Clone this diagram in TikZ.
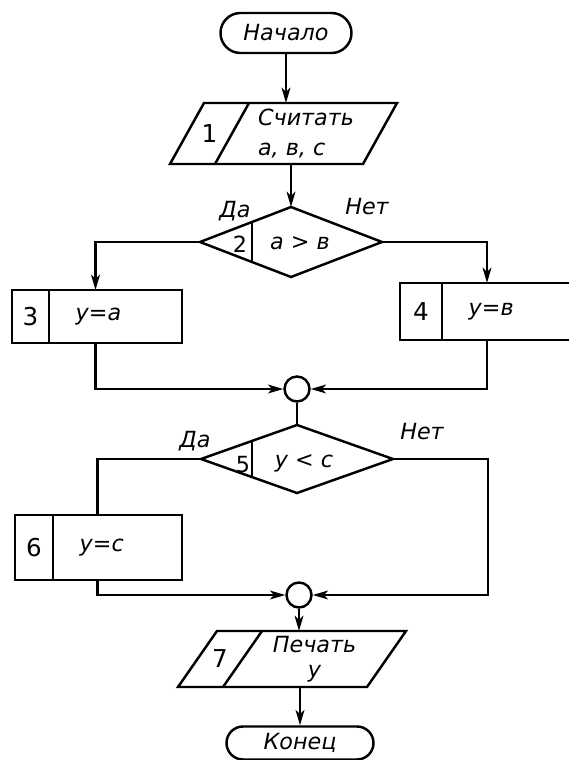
\documentclass[tikz,border=0pt]{standalone}
\usepackage{fontspec}
\setmainfont{DejaVu Sans}
\usetikzlibrary{shapes.geometric, shapes.misc, arrows.meta, positioning, calc}
\newcommand{\chartfont}{\fontsize{19}{25}\selectfont}
\newcommand{\numfont}{\fontsize{21}{25}\selectfont}

\begin{document}
\begin{tikzpicture}[
    x=0.03cm, y=-0.03cm,
    font=\numfont,
    line width=2.1pt,
    term/.style={rounded rectangle, draw, font=\chartfont\itshape, inner sep=0pt},
    cell/.style={rectangle, draw, outer sep=0pt, inner sep=0pt},
    proc/.style={cell, align=left, inner xsep=0.8cm, text width=#1, font=\chartfont\itshape},
    slab/.style={rectangle, outer sep=0pt, inner sep=0pt},
    decision/.style={diamond, draw, outer sep=0pt, inner sep=0pt},
    junction/.style={circle, draw, minimum size=0.75cm, inner sep=0pt},
    arrow/.style={-{Stealth[length=13pt, width=7.5pt, inset=3.5pt]}},
    tag/.style={font=\chartfont\itshape},
    mark num/.style={font=\chartfont, inner sep=0pt}
  ]
    \useasboundingbox (0,0) rectangle (569,760);

    \node[term, minimum width=3.93cm, minimum height=1.2cm] (start) at (286,33) {Начало};
    \node[slab, minimum width=1.35cm, minimum height=1.83cm] (n1) at (209.5,133.5) {1};
    \node[slab, minimum width=4.44cm, minimum height=1.83cm, right=0pt of n1,
          align=left, font=\chartfont\itshape] (r1) {Считать\\a, в, c};

    \node[decision, minimum width=5.46cm, minimum height=2.1cm] (d2) at (291,242) {};
    \node[mark num] (k2) at (240,244) {2};
    \node[tag] (t2) at (300,243) {a > в};
    \node[tag] (yes2) at (235,211) {Да};
    \node[tag] (no2) at (367,207) {Нет};

    \node[cell, minimum width=1.11cm, minimum height=1.59cm] (n3) at (30.5,316.5) {3};
    \node[proc=2.39cm, minimum height=1.59cm, right=0pt of n3] (r3) {y=a};
    \node[cell, minimum width=1.26cm, minimum height=1.71cm] (n4) at (421,311.5) {4};
    \node[proc=2.54cm, minimum height=1.71cm, right=0pt of n4] (r4) {y=в};

    \node[junction] (c1) at (297,389) {};
    \node[decision, minimum width=5.76cm, minimum height=2.04cm] (d5) at (297,459) {};
    \node[mark num] (k5) at (243,465) {5};
    \node[tag] (t5) at (304,463) {y < c};
    \node[tag] (yes5) at (195,441) {Да};
    \node[tag] (no5) at (422,432) {Нет};

    \node[cell, minimum width=1.14cm, minimum height=1.95cm] (n6) at (34,547.5) {6};
    \node[proc=2.27cm, minimum height=1.95cm, right=0pt of n6] (r6) {y=c};

    \node[junction] (c2) at (299,595) {};
    \node[slab, minimum width=1.35cm, minimum height=1.68cm] (n7) at (220,659) {7};
    \node[slab, minimum width=4.32cm, minimum height=1.68cm, right=0pt of n7,
          align=center, font=\chartfont\itshape] (r7) {Печать\\[-4pt]y};
    \node[term, minimum width=4.41cm, minimum height=0.99cm] (end) at (300,743) {Конец};

    \draw ([xshift=-0.51cm]n1.south west) -- ([xshift=0.51cm]n1.north west)
      -- ([xshift=0.51cm]r1.north east) -- ([xshift=-0.51cm]r1.south east) -- cycle;
    \draw ([xshift=0.51cm]r1.north west) -- ([xshift=-0.51cm]r1.south west);
    \draw ([xshift=-0.585cm]n7.south west) -- ([xshift=0.585cm]n7.north west)
      -- ([xshift=0.585cm]r7.north east) -- ([xshift=-0.585cm]r7.south east) -- cycle;
    \draw ([xshift=0.585cm]r7.north west) -- ([xshift=-0.585cm]r7.south west);
    \draw ($(d2.west)!0.57!(d2.north)$) -- ($(d2.west)!0.57!(d2.south)$);
    \draw ($(d5.west)!0.53!(d5.north)$) -- ($(d5.west)!0.53!(d5.south)$);

    \draw[arrow] (start.south) -- (start.south |- r1.north);
    \draw[arrow] (d2.north |- r1.south) -- (d2.north);
    \draw[arrow] (d2.west) -| ([xshift=-0.6cm]r3.north);
    \draw[arrow] (d2.east) -| ([xshift=-0.72cm]r4.north);
    \draw[arrow] ([xshift=-0.6cm]r3.south) |- (c1.west);
    \draw[arrow] ([xshift=-0.72cm]r4.south) |- (c1.east);
    \draw (c1) -- (d5.north);
    \draw (d5.west) -| ([xshift=-0.6cm]r6.north);
    \draw[arrow] ([xshift=-0.6cm]r6.south) |- (c2.west);
    \draw[arrow] (d5.east) -- ++(95,0) |- (c2.east);
    \draw[arrow] (c2.south) -- (c2.south |- r7.north);
    \draw[arrow] (end.north |- r7.south) -- (end.north);
  \end{tikzpicture}
\end{document}
